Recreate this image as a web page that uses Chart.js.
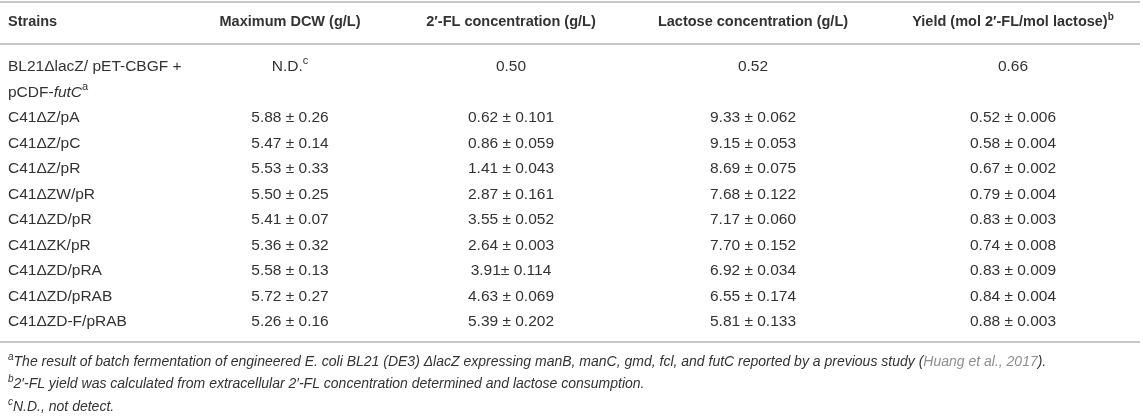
<!DOCTYPE html>
<html>
<head>
<meta charset="utf-8">
<script src="https://cdn.jsdelivr.net/npm/chart.js@4.4.0/dist/chart.umd.min.js"></script>
<style>
  html, body { margin: 0; padding: 0; background: #fff; }
  #wrap { width: 1143px; height: 419px; position: relative; }
</style>
</head>
<body>
<div id="wrap"><canvas id="tableChart"></canvas></div>
<script>
// Dados da tabela
const headers = ['Strains', 'Maximum DCW (g/L)', '2\u2032-FL concentration (g/L)', 'Lactose concentration (g/L)', 'Yield (mol 2\u2032-FL/mol lactose)'];
const strains = ['C41\u0394Z/pA', 'C41\u0394Z/pC', 'C41\u0394Z/pR', 'C41\u0394ZW/pR', 'C41\u0394ZD/pR', 'C41\u0394ZK/pR', 'C41\u0394ZD/pRA', 'C41\u0394ZD/pRAB', 'C41\u0394ZD-F/pRAB'];
const dcwMean = [5.88, 5.47, 5.53, 5.50, 5.41, 5.36, 5.58, 5.72, 5.26];
const dcwSd = [0.26, 0.14, 0.33, 0.25, 0.07, 0.32, 0.13, 0.27, 0.16];
const flMean = [0.62, 0.86, 1.41, 2.87, 3.55, 2.64, 3.91, 4.63, 5.39];
const flSd = [0.101, 0.059, 0.043, 0.161, 0.052, 0.003, 0.114, 0.069, 0.202];
const lacMean = [9.33, 9.15, 8.69, 7.68, 7.17, 7.70, 6.92, 6.55, 5.81];
const lacSd = [0.062, 0.053, 0.075, 0.122, 0.060, 0.152, 0.034, 0.174, 0.133];
const yieldMean = [0.52, 0.58, 0.67, 0.79, 0.83, 0.74, 0.83, 0.84, 0.88];
const yieldSd = [0.006, 0.004, 0.002, 0.004, 0.003, 0.008, 0.009, 0.004, 0.003];
// linha de referência (BL21)
const refValues = ['N.D.', 0.50, 0.52, 0.66];

// Estilos
const textColor = '#333333';
const ruleColor = '#c8c8c8';
const linkColor = '#8f8f8f';
const fontFamily = '"Liberation Sans", Arial, Helvetica, sans-serif';
const bodySize = 15.5;
const headSize = 14.5;
const footSize = 14;
const colX = [8, 290, 511, 753, 1013];   // x de cada coluna (primeira alinhada à esquerda)
const rowStep = 25.5;                    // altura de uma linha de texto
const firstRowY = 67;

// Posições verticais em "linhas"
const headerLine = -1.76;
const rules = [-2.53, -0.90, 10.78];
const footLines = [11.57, 12.45, 13.33];

function fmt(v, d) { return v.toFixed(d); }

// Monta as células: cada célula é uma lista de segmentos de texto
const cells = [];
headers.forEach((h, c) => {
  const segs = [{ t: h, w: 'bold' }];
  if (c === 4) segs.push({ t: 'b', w: 'bold', sup: true });
  cells.push({ col: c, line: headerLine, segs, size: headSize });
});
cells.push({ col: 0, line: 0, segs: [{ t: 'BL21\u0394lacZ/ pET-CBGF +' }] });
cells.push({ col: 0, line: 1, segs: [{ t: 'pCDF-' }, { t: 'futC', i: true }, { t: 'a', sup: true }] });
cells.push({ col: 1, line: 0, segs: [{ t: refValues[0] }, { t: 'c', sup: true }] });
for (let c = 1; c < 4; c++) cells.push({ col: c + 1, line: 0, segs: [{ t: fmt(refValues[c], 2) }] });

strains.forEach((s, r) => {
  const line = r + 2;
  cells.push({ col: 0, line, segs: [{ t: s }] });
  cells.push({ col: 1, line, segs: [{ t: fmt(dcwMean[r], 2) + ' \u00b1 ' + fmt(dcwSd[r], 2) }] });
  const sep = r === 6 ? '\u00b1 ' : ' \u00b1 ';
  cells.push({ col: 2, line, segs: [{ t: fmt(flMean[r], 2) + sep + fmt(flSd[r], 3) }] });
  cells.push({ col: 3, line, segs: [{ t: fmt(lacMean[r], 2) + ' \u00b1 ' + fmt(lacSd[r], 3) }] });
  cells.push({ col: 4, line, segs: [{ t: fmt(yieldMean[r], 2) + ' \u00b1 ' + fmt(yieldSd[r], 3) }] });
});

const footnotes = [
  [{ t: 'a', sup: true }, { t: 'The result of batch fermentation of engineered E. coli BL21 (DE3) \u0394lacZ expressing manB, manC, gmd, fcl, and futC reported by a previous study (' },
   { t: 'Huang et al., 2017', link: true }, { t: ').' }],
  [{ t: 'b', sup: true }, { t: '2\u2032-FL yield was calculated from extracellular 2\u2032-FL concentration determined and lactose consumption.' }],
  [{ t: 'c', sup: true }, { t: 'N.D., not detect.' }]
];

function segFont(s, size, italic) {
  const sz = s.sup ? Math.round(size * 0.7) : size;
  const st = (s.i || italic) ? 'italic ' : '';
  return st + (s.w || 'normal') + ' ' + sz + 'px ' + fontFamily;
}

function drawSegs(ctx, segs, x, y, align, size, italic) {
  let total = 0;
  segs.forEach(s => { ctx.font = segFont(s, size, italic); s.width = ctx.measureText(s.t).width; total += s.width; });
  let cx = align === 'center' ? x - total / 2 : x;
  segs.forEach(s => {
    ctx.font = segFont(s, size, italic);
    ctx.fillStyle = s.link ? linkColor : textColor;
    ctx.fillText(s.t, cx, s.sup ? y - size * 0.36 : y);
    cx += s.width;
  });
}

const tablePlugin = {
  id: 'tablePlugin',
  afterDraw(chart) {
    const ctx = chart.ctx;
    const xs = chart.scales.x, ys = chart.scales.y;
    ctx.save();
    ctx.textBaseline = 'middle';
    ctx.textAlign = 'left';
    // Linhas horizontais
    ctx.strokeStyle = ruleColor;
    ctx.lineWidth = 2;
    rules.forEach(l => {
      const py = Math.round(ys.getPixelForValue(l));
      ctx.beginPath();
      ctx.moveTo(xs.getPixelForValue(0), py);
      ctx.lineTo(xs.getPixelForValue(1140), py);
      ctx.stroke();
    });
    // Células
    cells.forEach(cell => {
      const px = xs.getPixelForValue(colX[cell.col]);
      const py = ys.getPixelForValue(cell.line);
      drawSegs(ctx, cell.segs, px, py, cell.col === 0 ? 'left' : 'center', cell.size || bodySize, false);
    });
    // Notas de rodapé
    footnotes.forEach((f, i) => {
      drawSegs(ctx, f, xs.getPixelForValue(8), ys.getPixelForValue(footLines[i]), 'left', footSize, true);
    });
    ctx.restore();
  }
};

const ctx = document.getElementById('tableChart').getContext('2d');
new Chart(ctx, {
  type: 'scatter',
  data: { datasets: [{ data: [], pointRadius: 0 }] },
  options: {
    responsive: true,
    maintainAspectRatio: false,
    animation: false,
    layout: { padding: 0 },
    plugins: { legend: { display: false }, tooltip: { enabled: false } },
    scales: {
      x: { type: 'linear', min: 0, max: 1143, display: false },
      y: { type: 'linear', reverse: true, min: -firstRowY / rowStep, max: (419 - firstRowY) / rowStep, display: false }
    }
  },
  plugins: [tablePlugin]
});
</script>
</body>
</html>
